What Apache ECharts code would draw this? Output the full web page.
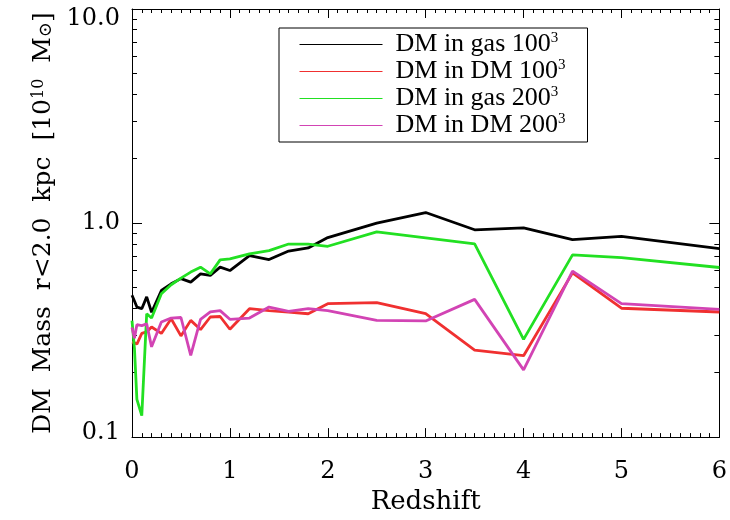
<!DOCTYPE html>
<html>
<head>
<meta charset="utf-8">
<script src="https://cdn.jsdelivr.net/npm/echarts@6/dist/echarts.min.js"></script>
<style>html,body{margin:0;padding:0;background:#fff}#c{width:730px;height:520px}</style>
</head>
<body>
<div id="c"></div>
<script>
const redshift = [0, 0.025, 0.05, 0.1, 0.15, 0.2, 0.3, 0.4, 0.5, 0.6, 0.7, 0.8, 0.9, 1.0, 1.2, 1.4, 1.6, 1.8, 2.0, 2.5, 3.0, 3.5, 4.0, 4.5, 5.0, 6.0];
const dmGas100 = [0.46, 0.432, 0.405, 0.398, 0.452, 0.383, 0.484, 0.52, 0.55, 0.53, 0.579, 0.569, 0.622, 0.60, 0.705, 0.675, 0.74, 0.765, 0.855, 1.0, 1.12, 0.93, 0.95, 0.836, 0.867, 0.76];
const dmDM100 = [0.278, 0.276, 0.272, 0.305, 0.31, 0.327, 0.305, 0.357, 0.297, 0.351, 0.318, 0.364, 0.366, 0.319, 0.398, 0.39, 0.384, 0.377, 0.42, 0.425, 0.377, 0.255, 0.24, 0.585, 0.40, 0.384];
const dmGas200 = [0.35, 0.26, 0.15, 0.126, 0.377, 0.36, 0.467, 0.515, 0.553, 0.59, 0.622, 0.579, 0.673, 0.68, 0.718, 0.743, 0.798, 0.798, 0.779, 0.91, 0.853, 0.80, 0.286, 0.71, 0.69, 0.62];
const dmDM200 = [0.325, 0.29, 0.335, 0.332, 0.338, 0.264, 0.345, 0.36, 0.362, 0.241, 0.355, 0.385, 0.39, 0.355, 0.36, 0.405, 0.387, 0.398, 0.39, 0.351, 0.349, 0.44, 0.206, 0.596, 0.42, 0.395];
const seriesNames = ['DM in gas 100', 'DM in DM 100', 'DM in gas 200', 'DM in DM 200'];
const seriesColors = ['#000000', '#f03030', '#22e022', '#d244b4'];
const yMajorTicks = [0.1, 1, 10];
const yMinorTicks = [0.2, 0.3, 0.4, 0.5, 0.6, 0.7, 0.8, 0.9, 2, 3, 4, 5, 6, 7, 8, 9];
const yTickLabels = {0.1: '{lo|0.1}', 1: '1.0', 10: '{hi|10.0}'};

const chart = echarts.init(document.getElementById('c'), null, {renderer: 'canvas'});
const serif = 'DejaVu Serif';
const pair = arr => redshift.map((z, i) => [z, arr[i]]);
const allData = [dmGas100, dmDM100, dmGas200, dmDM200];

function yAxisCfg(pos, major, showLabel) {
  return {
    type: 'log', logBase: 10, min: 0.1, max: 10, position: pos,
    gridIndex: 0,
    axisLine: {show: major, lineStyle: {color: '#000', width: 1}},
    axisTick: {show: true, inside: true, length: major ? 10 : 5, customValues: major ? yMajorTicks : yMinorTicks, lineStyle: {color: '#000'}},
    axisLabel: {show: showLabel, customValues: yMajorTicks, margin: 12, fontFamily: serif, fontSize: 24, color: '#000',
      verticalAlignMinLabel: 'bottom', verticalAlignMaxLabel: 'top',
      rich: {
        lo: {fontFamily: serif, fontSize: 24, color: '#000', lineHeight: 8},
        hi: {fontFamily: serif, fontSize: 24, color: '#000', lineHeight: 20}
      },
      formatter: v => yTickLabels[Math.round(v * 1000) / 1000] || String(v)},
    splitLine: {show: false}, minorTick: {show: false}, minorSplitLine: {show: false}
  };
}
function xAxisCfg(pos, showLabel) {
  return {
    type: 'value', min: 0, max: 6, interval: 1, position: pos,
    axisLine: {show: true, onZero: false, lineStyle: {color: '#000', width: 1}},
    axisTick: {show: true, inside: true, length: 9, lineStyle: {color: '#000'}},
    minorTick: {show: true, splitNumber: 10, length: 4, lineStyle: {color: '#000'}},
    axisLabel: {show: showLabel, margin: 23, fontFamily: serif, fontSize: 24, color: '#000'},
    splitLine: {show: false}
  };
}

const yLeft = yAxisCfg('left', true, true);
yLeft.name = '{a|DM  Mass  r<2.0  kpc  [10}{sup|10}{a|  M}{sub|⊙}{a|]}';
yLeft.nameLocation = 'middle';
yLeft.nameRotate = 90;
yLeft.nameGap = 76;
yLeft.nameTextStyle = {
  rich: {
    a: {fontFamily: serif, fontSize: 25, color: '#000'},
    sup: {fontFamily: serif, fontSize: 16, color: '#000', verticalAlign: 'top', lineHeight: 16},
    sub: {fontFamily: serif, fontSize: 18, color: '#000', verticalAlign: 'bottom', lineHeight: 14}
  }
};

const xBottom = xAxisCfg('bottom', true);
xBottom.name = 'Redshift';
xBottom.nameLocation = 'middle';
xBottom.nameGap = 51;
xBottom.nameTextStyle = {fontFamily: serif, fontSize: 26, color: '#000'};

const option = {
  backgroundColor: '#fff',
  animation: false,
  grid: {left: 132, right: 9, top: 9, bottom: 81, containLabel: false},
  xAxis: [xBottom, xAxisCfg('top', false)],
  yAxis: [yLeft, yAxisCfg('left', false, false), yAxisCfg('right', true, false), yAxisCfg('right', false, false)],
  legend: {
    left: 279, top: 28, orient: 'vertical',
    itemWidth: 83, itemHeight: 22, itemGap: 0,
    padding: [3, 22, 3, 20],
    borderColor: '#000', borderWidth: 1, backgroundColor: '#fff',
    lineStyle: {width: 1},
    itemStyle: {opacity: 0},
    data: seriesNames,
    formatter: n => '{t|' + n + '}{s|3}',
    textStyle: {
      padding: [0, 0, 0, 8],
      rich: {
        t: {fontFamily: 'Liberation Serif', fontSize: 26, color: '#000', lineHeight: 23},
        s: {fontFamily: 'Liberation Serif', fontSize: 15, color: '#000', lineHeight: 15, padding: [0, 0, 12, 0]}
      }
    }
  },
  series: seriesNames.map((n, i) => ({
    name: n, type: 'line', xAxisIndex: 0, yAxisIndex: 0,
    data: pair(allData[i]), symbol: 'none', showSymbol: false,
    lineStyle: {color: seriesColors[i], width: 2.8}, itemStyle: {color: seriesColors[i]},
    z: 2 + i
  }))
};
chart.setOption(option);
</script>
</body>
</html>
